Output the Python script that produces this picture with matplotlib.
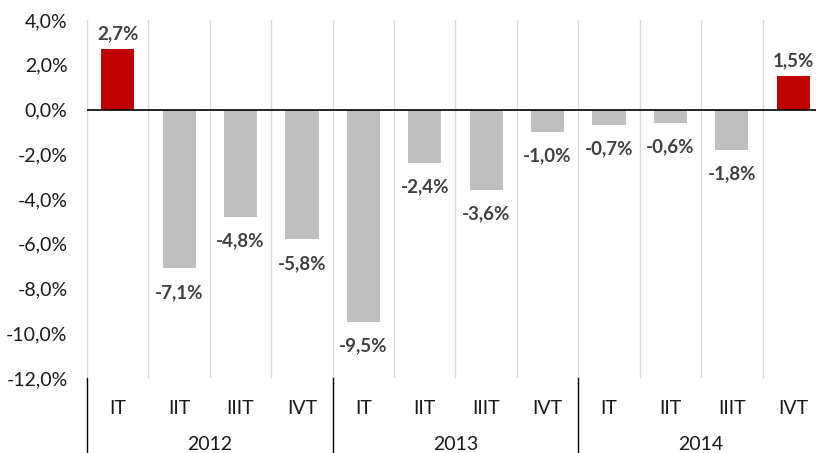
import numpy as np
import matplotlib.pyplot as plt
from matplotlib.ticker import FuncFormatter
from matplotlib.transforms import blended_transform_factory

quarters = ['IT', 'IIT', 'IIIT', 'IVT'] * 3
years = ['2012', '2013', '2014']
values = [2.7, -7.1, -4.8, -5.8, -9.5, -2.4, -3.6, -1.0, -0.7, -0.6, -1.8, 1.5]

plt.rcParams['font.family'] = ['Lato', 'DejaVu Sans']

W, H = 816, 453
fig = plt.figure(figsize=(W / 100, H / 100), dpi=100)
# plot area: x 87..824 px (cropped at right), y 20..378 px
ax = fig.add_axes([87 / W, (H - 378) / H, (824 - 87) / W, (378 - 20) / H])

x = np.arange(len(values))
colors = ['#C00000' if v > 0 else '#BFBFBF' for v in values]
ax.bar(x, values, width=0.54, color=colors, zorder=3)

ax.set_xlim(-0.5, len(values) - 0.5)
ax.set_ylim(-12, 4)

# vertical gridlines between categories
for k in range(len(values) + 1):
    ax.axvline(k - 0.5, color='#D9D9D9', lw=1.0, zorder=1)
ax.axhline(0, color='black', lw=1.2, zorder=4)

for s in ax.spines.values():
    s.set_visible(False)

ax.set_yticks(np.arange(-12, 5, 2))
ax.yaxis.set_major_formatter(FuncFormatter(lambda v, p: f'{v:.1f}%'.replace('.', ',')))
ax.tick_params(axis='y', length=0, pad=14, labelsize=14, labelcolor='#1a1a1a')

ax.set_xticks(x)
ax.set_xticklabels(quarters)
ax.tick_params(axis='x', length=0, pad=16, labelsize=14, labelcolor='#1a1a1a')

# data labels
for xi, v in zip(x, values):
    off = 15 if v > 0 else -24
    ax.annotate(f'{v:.1f}%'.replace('.', ','), (xi, v), xytext=(0, off),
                textcoords='offset pixels', ha='center', va='center',
                fontsize=13.5, fontweight='bold', color='#404040', zorder=5)

# year grouping
trans = blended_transform_factory(ax.transData, ax.transAxes)
for g in range(len(years) + 1):
    ax.plot([g * 4 - 0.5, g * 4 - 0.5], [0, -0.25], color='black', lw=1.0,
            transform=trans, clip_on=False)
for g, yr in enumerate(years):
    ax.text(g * 4 + 1.5, -(445 - 378) / 358, yr, transform=trans,
            ha='center', va='center', fontsize=14, color='#1a1a1a')

fig.savefig('out.png', dpi=100)
